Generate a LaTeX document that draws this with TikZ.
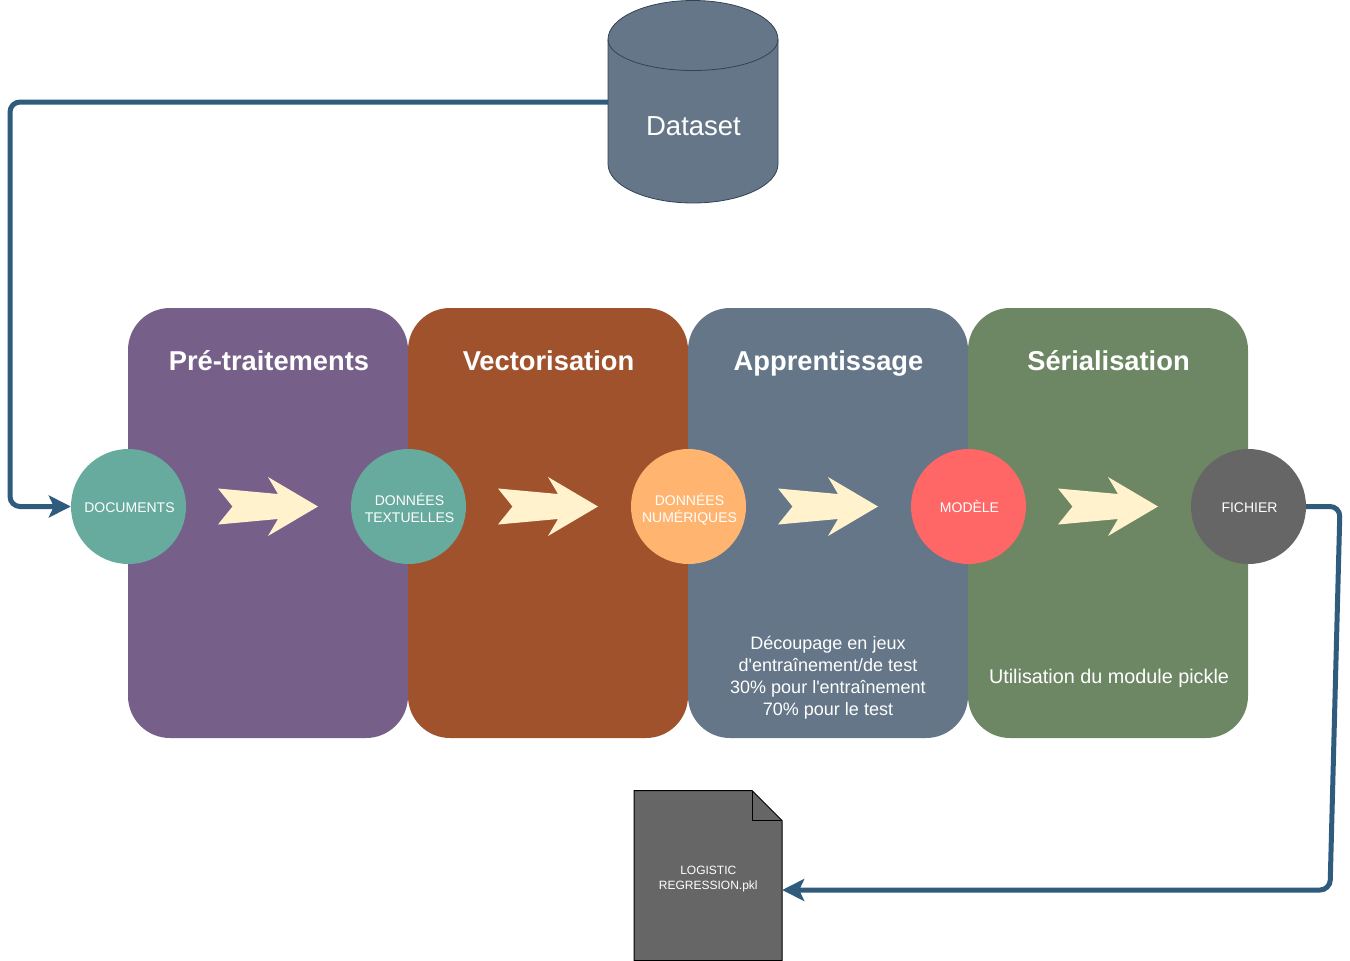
\documentclass[tikz,border=0pt]{standalone}
\usepackage{fontspec}
\setmainfont[Ligatures=TeXOff]{Liberation Sans}
\usetikzlibrary{arrows.meta}
\definecolor{cpurple}{HTML}{76608A}
\definecolor{cbrown}{HTML}{A0522D}
\definecolor{cslate}{HTML}{647687}
\definecolor{cgreen}{HTML}{6D8764}
\definecolor{cteal}{HTML}{67AB9F}
\definecolor{corange}{HTML}{FFB570}
\definecolor{cred}{HTML}{FF6666}
\definecolor{cgrey}{HTML}{666666}
\definecolor{ccream}{HTML}{FFF2CC}
\definecolor{clink}{HTML}{2F5B7C}
\definecolor{cslateline}{HTML}{314354}
\newcommand\oneline[1]{\hspace*{2pt}\rule[-3pt]{0pt}{18pt}#1}
\newcommand\firstl[1]{\hspace*{2pt}\rule{0pt}{17pt}#1}
\newcommand\lastl[1]{\hspace*{2pt}\rule[-3pt]{0pt}{3pt}#1}
\tikzset{
  panel/.style={fill=#1,draw=none,rounded corners=42pt,minimum width=280pt,minimum height=430pt,inner sep=0pt},
  disc/.style={circle,fill=#1,draw=none,minimum size=115pt,inner sep=0pt,text=white,align=center,font=\fontsize{14}{17}\selectfont},
  paneltitle/.style={anchor=base,text=white,font=\fontsize{27.3}{32}\selectfont\bfseries,inner sep=0pt},
  paneltext/.style={text=white,align=center,font=\fontsize{18}{22}\selectfont,inner sep=0pt},
  flowarrow/.style={fill=ccream,draw=none},
  link/.style={draw=clink,line width=5pt,rounded corners=10pt,-{Stealth[length=22pt,width=22pt,inset=5pt]}},
  cylbody/.style={fill=cslate,draw=cslateline,line width=0.8pt},
  filebody/.style={fill=cgrey,draw=black,line width=1pt},
}
\begin{document}
\begin{tikzpicture}[x=1pt,y=-1pt]
\useasboundingbox (0,0) rectangle (1350,961);
% panels
\node[panel=cpurple] (p1) at (268,523) {};
\node[panel=cbrown] (p2) at (548,523) {};
\node[panel=cslate] (p3) at (828,523) {};
\node[panel=cgreen] (p4) at (1108,523) {};
\node[paneltitle] (t1) at (269,370) {Pré-traitements};
\node[paneltitle] (t2) at (548.5,370) {Vectorisation};
\node[paneltitle] (t3) at (828.5,370) {Apprentissage};
\node[paneltitle] (t4) at (1108.5,370) {Sérialisation};
\node[paneltext] (d3) at (828,678) {Découpage en jeux\\d'entraînement/de test\\30\% pour l'entraînement\\70\% pour le test};
\node[paneltext,font=\fontsize{19.8}{24}\selectfont] (d4) at (1109,678) {Utilisation du module pickle};
% flow arrows
\foreach \dx in {0,280,560,840}{
  \fill[flowarrow,shift={(\dx,0)}] (218,488.5) -- (278,494) -- (268,477) -- (318,506.5) -- (268,536) -- (278,519) -- (218,524.5) -- (232.5,506.5) -- cycle;
}
% circles
\node[disc=cteal] (c1) at (128.5,506.5) {\oneline{DOCUMENTS}};
\node[disc=cteal] (c2) at (408.5,506.5) {\firstl{DONNÉES}\\\lastl{TEXTUELLES}};
\node[disc=corange] (c3) at (688.5,506.5) {\firstl{DONNÉES}\\\lastl{NUMÉRIQUES}};
\node[disc=cred] (c4) at (968.5,506.5) {\oneline{MODÈLE}};
\node[disc=cgrey] (c5) at (1248.5,506.5) {\oneline{FICHIER}};
% cylinder
\path[cylbody] (608,39.5) .. controls (608,18) and (646,0.5) .. (693,0.5) .. controls (740,0.5) and (778,18) .. (778,39.5)
  -- (778,164) .. controls (778,185.5) and (740,203) .. (693,203) .. controls (646,203) and (608,185.5) .. (608,164) -- cycle;
\draw[draw=cslateline,line width=0.8pt] (608,39.5) .. controls (608,56.5) and (646,70.5) .. (693,70.5) .. controls (740,70.5) and (778,56.5) .. (778,39.5);
\node[minimum width=170pt,minimum height=203pt,inner sep=0pt] (dataset) at (693,102) {};
\node[text=white,font=\fontsize{27.5}{32}\selectfont,inner sep=0pt] (datasetlabel) at (693.5,126) {Dataset};
% file
\path[filebody] (634,790.5) -- (752,790.5) -- (782,820.5) -- (782,960.5) -- (634,960.5) -- cycle;
\draw[draw=black,line width=1pt] (752,790.5) -- (752,820.5) -- (782,820.5);
\node[minimum width=148pt,minimum height=170pt,inner sep=0pt] (file) at (708,875.5) {};
\node[text=white,align=center,font=\fontsize{12}{15}\selectfont,inner sep=0pt] (filelabel) at (708.3,879) {LOGISTIC\\REGRESSION.pkl};
% connectors
\coordinate (a1) at (10,102);
\coordinate (a2) at (10,506.5);
\coordinate (b1) at (1340,506.5);
\coordinate (b2) at (1330,890);
\draw[link] (dataset.west) -- (a1) -- (a2) -- (c1.west);
\draw[link] (c5.east) -- (b1) -- (b2) -- (file.east |- b2);
\end{tikzpicture}
\end{document}
